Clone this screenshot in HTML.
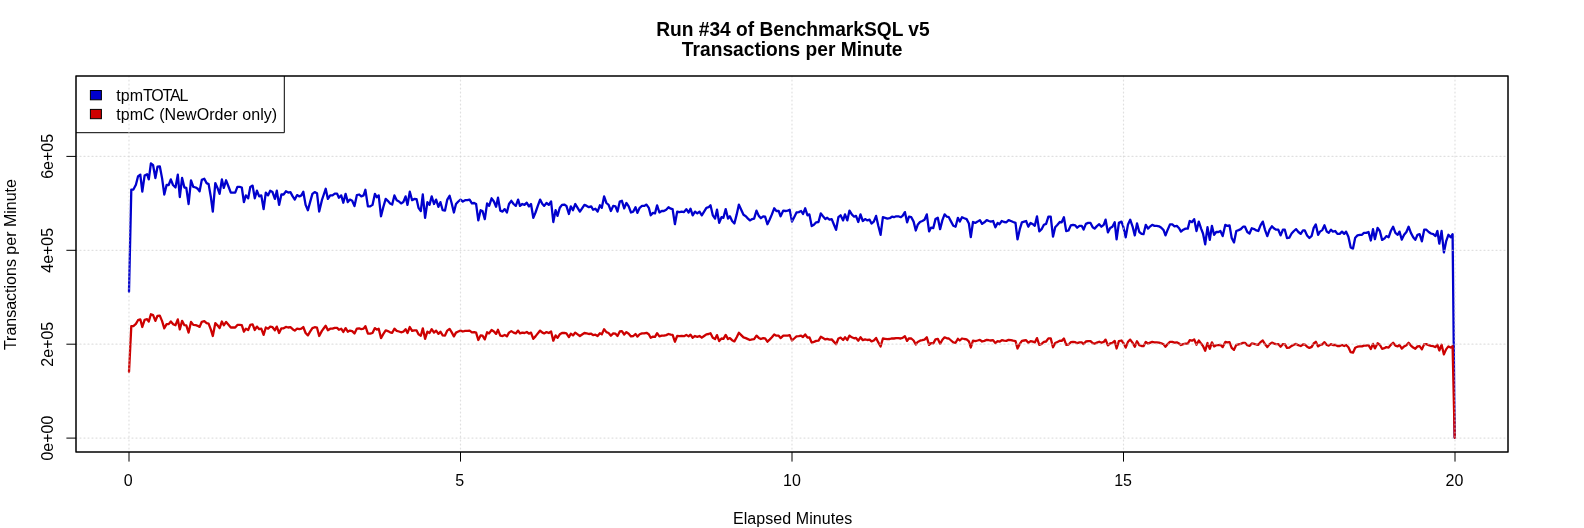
<!DOCTYPE html>
<html><head><meta charset="utf-8"><title>Run #34 of BenchmarkSQL v5</title>
<style>
html,body{margin:0;padding:0;background:#fff;}
body{width:1584px;height:528px;overflow:hidden;}
svg{display:block;will-change:transform;opacity:0.999;font-family:"Liberation Sans",sans-serif;font-size:16px;fill:#000;}
.ttl{font-weight:bold;font-size:20.25px;}
</style></head><body>
<svg width="1584" height="528" viewBox="0 0 1584 528">
<rect x="0" y="0" width="1584" height="528" fill="#fff"/>
<text class="ttl" transform="translate(792.9,35.6) scale(0.947,1)" text-anchor="middle">Run #34 of BenchmarkSQL v5</text>
<text class="ttl" transform="translate(792.2,55.5) scale(0.948,1)" text-anchor="middle">Transactions per Minute</text>
<text x="792.6" y="523.5" text-anchor="middle" letter-spacing="0.07">Elapsed Minutes</text>
<text transform="translate(16,264.6) rotate(-90)" text-anchor="middle">Transactions per Minute</text>
<path d="M129.0,291.8 L131.3,189.6 L133.4,189.5 L135.9,184.7 L138.0,176.5 L140.3,174.6 L142.3,191.7 L144.6,175.6 L147.1,174.2 L148.8,179.4 L150.9,163.3 L153.1,165.2 L155.4,178.0 L157.5,166.7 L159.8,166.3 L162.1,178.4 L164.3,194.5 L166.6,185.0 L168.7,185.0 L170.8,179.4 L173.0,185.0 L175.5,187.5 L177.8,174.6 L179.8,197.0 L182.1,178.0 L184.4,187.5 L186.3,187.9 L188.6,204.0 L191.0,180.3 L193.3,186.9 L195.8,187.5 L197.7,188.8 L199.6,191.3 L201.8,179.9 L204.3,178.8 L206.6,183.1 L208.6,184.1 L210.9,197.3 L212.8,211.6 L215.3,183.1 L217.5,187.9 L219.6,193.9 L221.9,179.4 L223.8,187.9 L226.1,180.3 L228.3,186.0 L230.8,192.6 L233.1,192.6 L235.2,192.6 L237.4,186.9 L239.7,186.9 L241.8,187.5 L243.9,202.1 L245.9,195.4 L248.2,198.3 L250.3,186.9 L252.6,185.6 L254.8,198.3 L256.9,190.7 L259.2,196.4 L261.3,195.4 L263.6,209.1 L265.8,192.6 L268.1,195.4 L270.2,190.7 L272.5,192.1 L274.9,198.9 L276.8,190.7 L279.1,204.9 L281.4,194.5 L283.6,194.5 L285.9,191.3 L288.2,192.6 L290.4,192.1 L292.7,196.4 L294.8,199.6 L297.1,195.1 L299.4,196.4 L301.4,195.4 L303.3,191.7 L305.6,204.9 L307.9,210.2 L310.1,202.1 L312.4,193.9 L314.7,192.1 L317.0,193.2 L319.2,211.6 L321.9,200.2 L323.8,194.5 L325.7,188.8 L327.9,198.9 L330.2,195.4 L332.5,195.4 L334.8,193.6 L337.1,193.6 L338.9,197.7 L341.2,195.4 L343.3,202.7 L345.6,193.9 L347.8,202.1 L349.9,199.6 L352.2,200.8 L354.5,206.1 L356.9,195.1 L359.2,194.5 L361.3,196.4 L363.6,195.4 L365.4,189.8 L367.9,206.4 L370.2,206.4 L372.5,204.9 L374.9,193.9 L376.8,197.3 L378.7,195.4 L381.0,216.3 L383.4,206.8 L385.7,198.9 L387.8,200.8 L390.1,203.4 L392.2,204.6 L394.4,195.4 L396.7,200.2 L399.0,201.5 L401.1,203.4 L403.3,202.1 L405.6,196.4 L407.5,204.9 L409.8,191.7 L412.1,200.2 L414.3,198.9 L416.6,199.2 L418.5,207.8 L420.8,211.0 L422.8,194.5 L425.1,217.8 L427.4,202.1 L429.5,204.9 L431.7,196.4 L434.0,204.0 L436.1,199.6 L438.4,206.8 L440.4,202.1 L442.7,210.2 L445.0,210.6 L447.3,199.6 L449.6,195.8 L451.6,203.0 L453.9,212.5 L456.0,204.0 L458.3,201.5 L460.5,199.6 L462.8,201.5 L465.1,200.2 L467.4,200.2 L469.6,199.6 L471.9,203.4 L474.2,203.0 L476.1,204.0 L478.3,220.4 L480.6,210.2 L482.5,211.0 L484.8,219.1 L487.1,203.4 L489.1,205.9 L491.6,198.3 L493.9,201.5 L496.1,206.8 L498.0,197.7 L500.3,210.6 L502.6,211.6 L504.7,209.1 L506.9,212.5 L509.0,204.0 L511.3,200.8 L513.6,204.0 L515.8,205.9 L518.1,199.6 L520.0,205.9 L522.3,204.0 L524.5,204.9 L526.8,202.7 L528.9,206.4 L531.0,204.0 L533.3,217.8 L535.5,212.5 L537.8,205.9 L540.1,199.6 L542.4,204.0 L544.2,205.9 L546.5,203.0 L548.8,204.9 L551.1,201.5 L553.3,222.0 L555.6,210.2 L557.5,215.9 L559.8,207.8 L562.0,204.9 L564.3,204.6 L566.4,205.9 L568.9,214.0 L570.8,206.4 L573.0,210.2 L575.3,204.0 L577.6,207.8 L579.9,211.6 L582.1,208.3 L584.4,204.9 L586.7,205.9 L588.9,207.2 L591.2,206.4 L593.1,209.7 L595.4,208.7 L597.6,211.6 L599.9,205.3 L601.8,207.8 L604.1,196.4 L606.4,203.0 L608.6,204.9 L610.9,211.0 L613.2,205.9 L615.5,206.4 L617.5,211.6 L619.8,201.5 L621.9,200.8 L624.2,208.3 L626.4,203.0 L628.7,206.4 L631.0,212.5 L633.3,211.6 L635.5,207.2 L637.4,212.9 L639.7,207.8 L642.0,205.9 L644.2,205.9 L646.5,204.6 L648.8,207.8 L650.7,215.3 L653.0,212.9 L655.0,213.4 L657.1,205.3 L659.4,212.5 L661.7,211.0 L663.9,211.0 L666.2,209.7 L668.5,207.2 L670.8,208.7 L672.6,209.1 L674.9,224.2 L677.2,211.6 L679.5,212.1 L681.7,211.6 L684.0,212.1 L686.3,209.1 L688.6,212.5 L690.5,208.7 L692.7,215.3 L695.0,211.6 L697.3,213.4 L699.5,211.6 L701.8,215.3 L704.1,211.6 L706.4,207.8 L708.6,207.2 L710.5,205.3 L712.8,215.3 L715.1,218.6 L717.0,209.7 L719.2,222.9 L721.5,217.2 L723.4,217.8 L725.7,209.1 L728.0,218.6 L729.9,216.3 L732.1,221.0 L734.4,223.5 L736.7,214.4 L738.9,204.6 L741.2,209.7 L743.5,214.8 L745.8,216.3 L748.0,218.6 L749.9,220.4 L752.2,219.1 L754.1,218.6 L756.5,210.6 L758.8,215.9 L760.9,218.2 L763.2,216.3 L765.1,216.7 L767.4,224.2 L769.6,219.7 L771.9,214.4 L774.2,208.3 L776.4,211.0 L778.7,211.0 L780.6,216.3 L783.3,210.6 L785.5,211.0 L787.8,210.6 L789.7,209.7 L792.0,221.6 L794.2,217.2 L796.5,212.5 L798.8,212.1 L801.1,211.0 L803.0,214.0 L805.2,208.3 L807.5,215.3 L809.4,214.4 L811.7,226.1 L813.9,224.8 L816.2,222.3 L818.5,222.0 L820.8,213.4 L823.0,216.3 L825.3,219.1 L827.2,217.8 L829.5,219.7 L831.7,219.1 L834.0,224.8 L836.1,229.9 L838.4,217.2 L840.6,215.3 L843.1,220.4 L845.0,214.4 L847.3,220.4 L849.5,210.6 L851.8,214.4 L854.1,216.7 L856.0,215.9 L858.3,222.0 L860.5,214.4 L862.8,221.0 L865.1,219.1 L867.4,220.4 L869.6,219.7 L871.5,223.5 L873.8,221.6 L876.1,215.9 L878.3,225.8 L880.6,234.8 L882.9,217.2 L885.1,217.8 L887.4,218.6 L889.7,218.2 L892.0,216.7 L893.9,217.2 L896.1,216.3 L898.4,216.3 L900.7,217.2 L902.6,215.9 L904.9,212.1 L907.1,222.3 L909.0,216.7 L911.3,217.2 L913.6,221.6 L915.8,230.5 L917.7,224.8 L920.0,222.0 L922.3,221.0 L924.5,219.7 L926.8,214.4 L929.1,231.4 L931.0,227.7 L933.3,228.0 L935.5,219.1 L937.8,217.8 L940.1,229.2 L942.4,220.1 L944.6,214.4 L946.9,216.7 L948.8,217.2 L951.1,221.6 L953.3,225.8 L955.6,226.7 L957.9,217.8 L959.8,221.6 L962.0,217.2 L964.3,218.2 L966.6,219.1 L968.9,223.5 L970.8,237.1 L973.0,222.0 L975.3,222.9 L977.6,221.6 L979.9,220.1 L982.1,223.9 L984.4,222.3 L986.7,220.1 L988.9,221.0 L990.8,221.6 L993.1,221.0 L995.4,227.3 L997.6,222.9 L999.5,224.2 L1001.8,221.0 L1004.1,222.0 L1006.4,222.3 L1008.6,220.1 L1010.9,221.0 L1013.2,222.0 L1015.5,222.9 L1017.5,239.4 L1019.8,229.2 L1021.9,222.3 L1024.2,221.6 L1026.1,221.0 L1028.3,226.7 L1030.6,222.9 L1032.9,224.2 L1034.8,225.8 L1037.0,216.3 L1039.3,231.4 L1041.6,229.2 L1043.9,224.8 L1046.1,223.9 L1048.4,216.7 L1050.7,216.7 L1053.0,236.7 L1055.2,227.3 L1057.5,224.8 L1059.8,222.0 L1061.7,222.3 L1063.9,217.2 L1066.2,231.1 L1068.5,230.5 L1070.8,225.4 L1073.0,224.8 L1075.3,225.4 L1077.2,227.7 L1079.5,225.8 L1081.7,225.8 L1083.6,229.6 L1085.9,223.9 L1088.2,222.9 L1090.5,222.9 L1092.7,227.3 L1094.6,228.6 L1096.9,226.1 L1099.2,224.2 L1101.4,226.7 L1103.7,224.8 L1105.6,219.7 L1107.9,232.4 L1110.2,228.0 L1112.4,226.7 L1114.7,222.3 L1116.6,239.4 L1118.9,222.9 L1121.5,221.6 L1123.4,227.2 L1125.7,237.3 L1128.0,224.4 L1130.2,219.7 L1132.5,226.3 L1134.8,235.4 L1137.0,223.4 L1139.3,232.0 L1141.6,233.9 L1143.5,234.2 L1145.8,224.8 L1148.0,228.6 L1150.3,226.3 L1152.2,224.8 L1154.5,225.9 L1156.7,225.9 L1159.0,226.3 L1161.3,227.8 L1163.6,230.1 L1165.5,235.4 L1167.7,229.7 L1170.0,224.4 L1172.3,224.4 L1174.5,226.3 L1176.8,225.9 L1179.1,228.2 L1181.0,231.6 L1183.3,229.7 L1185.5,228.6 L1187.8,228.6 L1189.7,221.0 L1192.0,222.1 L1194.2,219.1 L1196.5,231.0 L1198.8,221.6 L1201.1,228.6 L1203.0,233.5 L1205.2,244.3 L1207.5,227.2 L1209.8,239.9 L1211.9,225.9 L1214.1,234.8 L1216.2,232.0 L1218.5,232.0 L1220.4,231.0 L1222.7,236.1 L1225.3,224.8 L1227.2,225.9 L1229.5,225.3 L1231.7,238.0 L1234.0,242.4 L1236.3,231.0 L1238.6,230.1 L1240.8,229.1 L1243.1,226.7 L1245.0,226.7 L1247.3,232.0 L1249.5,233.5 L1251.8,228.2 L1254.1,229.1 L1256.4,230.4 L1258.3,231.0 L1260.5,225.3 L1262.8,221.6 L1265.1,230.1 L1267.3,236.1 L1269.6,229.7 L1271.9,226.3 L1274.2,228.6 L1276.1,229.7 L1278.3,229.7 L1280.6,235.4 L1282.9,229.7 L1284.8,229.7 L1287.0,238.0 L1289.3,237.7 L1291.6,233.5 L1293.9,231.0 L1296.1,229.1 L1298.4,232.0 L1300.7,233.9 L1303.0,230.4 L1304.8,230.4 L1307.1,235.4 L1309.4,238.0 L1311.7,235.8 L1313.6,228.2 L1315.8,224.4 L1318.1,234.8 L1320.0,231.6 L1322.3,230.1 L1324.5,225.3 L1326.8,231.6 L1328.7,232.9 L1331.0,229.7 L1332.9,231.6 L1335.2,231.0 L1337.4,233.9 L1339.7,233.9 L1342.0,231.6 L1344.2,233.9 L1346.1,231.6 L1348.4,236.7 L1350.7,247.5 L1353.0,248.6 L1355.2,237.7 L1357.5,235.4 L1359.8,234.8 L1362.0,234.8 L1363.9,232.9 L1366.2,232.9 L1368.5,232.0 L1370.8,240.5 L1373.0,229.1 L1374.9,239.2 L1377.6,227.8 L1379.8,231.0 L1382.1,239.9 L1384.4,238.6 L1386.3,236.1 L1388.6,237.3 L1390.8,231.0 L1393.1,226.7 L1395.4,232.9 L1397.7,234.8 L1399.5,231.6 L1401.8,239.6 L1404.1,234.8 L1406.4,232.0 L1408.6,226.7 L1410.9,232.9 L1413.2,237.3 L1415.3,239.9 L1417.5,234.8 L1419.6,234.2 L1421.9,241.4 L1424.2,229.7 L1426.4,229.7 L1428.7,232.0 L1431.0,233.5 L1433.3,234.2 L1435.5,236.1 L1437.4,231.0 L1439.3,243.7 L1441.6,231.0 L1443.9,252.4 L1446.1,241.4 L1448.4,234.8 L1450.7,237.3 L1452.6,234.2 L1454.7,437.7" fill="none" stroke="#0000cd" stroke-width="2.3" stroke-linejoin="round" stroke-linecap="round"/>
<path d="M129.0,372.0 L131.3,326.1 L133.4,326.1 L135.9,323.9 L138.0,320.2 L140.3,319.4 L142.3,327.0 L144.6,319.8 L147.1,319.2 L148.8,321.5 L150.9,314.3 L153.1,315.1 L155.4,320.9 L157.5,315.8 L159.8,315.6 L162.1,321.1 L164.3,328.3 L166.6,324.1 L168.7,324.1 L170.8,321.5 L173.0,324.1 L175.5,325.2 L177.8,319.4 L179.8,329.4 L182.1,320.9 L184.4,325.2 L186.3,325.3 L188.6,332.6 L191.0,321.9 L193.3,324.9 L195.8,325.2 L197.7,325.8 L199.6,326.9 L201.8,321.8 L204.3,321.2 L206.6,323.2 L208.6,323.6 L210.9,329.6 L212.8,336.0 L215.3,323.2 L217.5,325.3 L219.6,328.1 L221.9,321.5 L223.8,325.3 L226.1,321.9 L228.3,324.5 L230.8,327.5 L233.1,327.5 L235.2,327.5 L237.4,324.9 L239.7,324.9 L241.8,325.2 L243.9,331.7 L245.9,328.7 L248.2,330.0 L250.3,324.9 L252.6,324.3 L254.8,330.0 L256.9,326.6 L259.2,329.2 L261.3,328.7 L263.6,334.9 L265.8,327.5 L268.1,328.7 L270.2,326.6 L272.5,327.2 L274.9,330.3 L276.8,326.6 L279.1,333.0 L281.4,328.3 L283.6,328.3 L285.9,326.9 L288.2,327.5 L290.4,327.2 L292.7,329.2 L294.8,330.6 L297.1,328.6 L299.4,329.2 L301.4,328.7 L303.3,327.0 L305.6,333.0 L307.9,335.4 L310.1,331.7 L312.4,328.1 L314.7,327.2 L317.0,327.7 L319.2,336.0 L321.9,330.9 L323.8,328.3 L325.7,325.8 L327.9,330.3 L330.2,328.7 L332.5,328.7 L334.8,327.9 L337.1,327.9 L338.9,329.8 L341.2,328.7 L343.3,332.0 L345.6,328.1 L347.8,331.7 L349.9,330.6 L352.2,331.1 L354.5,333.5 L356.9,328.6 L359.2,328.3 L361.3,329.2 L363.6,328.7 L365.4,326.2 L367.9,333.7 L370.2,333.7 L372.5,333.0 L374.9,328.1 L376.8,329.6 L378.7,328.7 L381.0,338.1 L383.4,333.9 L385.7,330.3 L387.8,331.1 L390.1,332.3 L392.2,332.8 L394.4,328.7 L396.7,330.9 L399.0,331.5 L401.1,332.3 L403.3,331.7 L405.6,329.2 L407.5,333.0 L409.8,327.0 L412.1,330.9 L414.3,330.3 L416.6,330.4 L418.5,334.3 L420.8,335.7 L422.8,328.3 L425.1,338.8 L427.4,331.7 L429.5,333.0 L431.7,329.2 L434.0,332.6 L436.1,330.6 L438.4,333.9 L440.4,331.7 L442.7,335.4 L445.0,335.6 L447.3,330.6 L449.6,328.9 L451.6,332.1 L453.9,336.4 L456.0,332.6 L458.3,331.5 L460.5,330.6 L462.8,331.5 L465.1,330.9 L467.4,330.9 L469.6,330.6 L471.9,332.3 L474.2,332.1 L476.1,332.6 L478.3,340.0 L480.6,335.4 L482.5,335.7 L484.8,339.4 L487.1,332.3 L489.1,333.4 L491.6,330.0 L493.9,331.5 L496.1,333.9 L498.0,329.8 L500.3,335.6 L502.6,336.0 L504.7,334.9 L506.9,336.4 L509.0,332.6 L511.3,331.1 L513.6,332.6 L515.8,333.4 L518.1,330.6 L520.0,333.4 L522.3,332.6 L524.5,333.0 L526.8,332.0 L528.9,333.7 L531.0,332.6 L533.3,338.8 L535.5,336.4 L537.8,333.4 L540.1,330.6 L542.4,332.6 L544.2,333.4 L546.5,332.1 L548.8,333.0 L551.1,331.5 L553.3,340.7 L555.6,335.4 L557.5,337.9 L559.8,334.3 L562.0,333.0 L564.3,332.8 L566.4,333.4 L568.9,337.1 L570.8,333.7 L573.0,335.4 L575.3,332.6 L577.6,334.3 L579.9,336.0 L582.1,334.5 L584.4,333.0 L586.7,333.4 L588.9,334.0 L591.2,333.7 L593.1,335.1 L595.4,334.7 L597.6,336.0 L599.9,333.2 L601.8,334.3 L604.1,329.2 L606.4,332.1 L608.6,333.0 L610.9,335.7 L613.2,333.4 L615.5,333.7 L617.5,336.0 L619.8,331.5 L621.9,331.1 L624.2,334.5 L626.4,332.1 L628.7,333.7 L631.0,336.4 L633.3,336.0 L635.5,334.0 L637.4,336.6 L639.7,334.3 L642.0,333.4 L644.2,333.4 L646.5,332.8 L648.8,334.3 L650.7,337.7 L653.0,336.6 L655.0,336.8 L657.1,333.2 L659.4,336.4 L661.7,335.7 L663.9,335.7 L666.2,335.1 L668.5,334.0 L670.8,334.7 L672.6,334.9 L674.9,341.7 L677.2,336.0 L679.5,336.2 L681.7,336.0 L684.0,336.2 L686.3,334.9 L688.6,336.4 L690.5,334.7 L692.7,337.7 L695.0,336.0 L697.3,336.8 L699.5,336.0 L701.8,337.7 L704.1,336.0 L706.4,334.3 L708.6,334.0 L710.5,333.2 L712.8,337.7 L715.1,339.1 L717.0,335.1 L719.2,341.1 L721.5,338.5 L723.4,338.8 L725.7,334.9 L728.0,339.1 L729.9,338.1 L732.1,340.2 L734.4,341.4 L736.7,337.3 L738.9,332.8 L741.2,335.1 L743.5,337.4 L745.8,338.1 L748.0,339.1 L749.9,340.0 L752.2,339.4 L754.1,339.1 L756.5,335.6 L758.8,337.9 L760.9,339.0 L763.2,338.1 L765.1,338.3 L767.4,341.7 L769.6,339.6 L771.9,337.3 L774.2,334.5 L776.4,335.7 L778.7,335.7 L780.6,338.1 L783.3,335.6 L785.5,335.7 L787.8,335.6 L789.7,335.1 L792.0,340.5 L794.2,338.5 L796.5,336.4 L798.8,336.2 L801.1,335.7 L803.0,337.1 L805.2,334.5 L807.5,337.7 L809.4,337.3 L811.7,342.6 L813.9,341.9 L816.2,340.9 L818.5,340.7 L820.8,336.8 L823.0,338.1 L825.3,339.4 L827.2,338.8 L829.5,339.6 L831.7,339.4 L834.0,341.9 L836.1,344.2 L838.4,338.5 L840.6,337.7 L843.1,340.0 L845.0,337.3 L847.3,340.0 L849.5,335.6 L851.8,337.3 L854.1,338.3 L856.0,337.9 L858.3,340.7 L860.5,337.3 L862.8,340.2 L865.1,339.4 L867.4,340.0 L869.6,339.6 L871.5,341.4 L873.8,340.5 L876.1,337.9 L878.3,342.4 L880.6,346.5 L882.9,338.5 L885.1,338.8 L887.4,339.1 L889.7,339.0 L892.0,338.3 L893.9,338.5 L896.1,338.1 L898.4,338.1 L900.7,338.5 L902.6,337.9 L904.9,336.2 L907.1,340.9 L909.0,338.3 L911.3,338.5 L913.6,340.5 L915.8,344.5 L917.7,341.9 L920.0,340.7 L922.3,340.2 L924.5,339.6 L926.8,337.3 L929.1,344.9 L931.0,343.2 L933.3,343.4 L935.5,339.4 L937.8,338.8 L940.1,343.9 L942.4,339.8 L944.6,337.3 L946.9,338.3 L948.8,338.5 L951.1,340.5 L953.3,342.4 L955.6,342.8 L957.9,338.8 L959.8,340.5 L962.0,338.5 L964.3,339.0 L966.6,339.4 L968.9,341.4 L970.8,347.5 L973.0,340.7 L975.3,341.1 L977.6,340.5 L979.9,339.8 L982.1,341.5 L984.4,340.9 L986.7,339.8 L988.9,340.2 L990.8,340.5 L993.1,340.2 L995.4,343.1 L997.6,341.1 L999.5,341.7 L1001.8,340.2 L1004.1,340.7 L1006.4,340.9 L1008.6,339.8 L1010.9,340.2 L1013.2,340.7 L1015.5,341.1 L1017.5,348.5 L1019.8,343.9 L1021.9,340.9 L1024.2,340.5 L1026.1,340.2 L1028.3,342.8 L1030.6,341.1 L1032.9,341.7 L1034.8,342.4 L1037.0,338.1 L1039.3,344.9 L1041.6,343.9 L1043.9,341.9 L1046.1,341.5 L1048.4,338.3 L1050.7,338.3 L1053.0,347.3 L1055.2,343.1 L1057.5,341.9 L1059.8,340.7 L1061.7,340.9 L1063.9,338.5 L1066.2,344.8 L1068.5,344.5 L1070.8,342.2 L1073.0,341.9 L1075.3,342.2 L1077.2,343.2 L1079.5,342.4 L1081.7,342.4 L1083.6,344.1 L1085.9,341.5 L1088.2,341.1 L1090.5,341.1 L1092.7,343.1 L1094.6,343.7 L1096.9,342.6 L1099.2,341.7 L1101.4,342.8 L1103.7,341.9 L1105.6,339.6 L1107.9,345.4 L1110.2,343.4 L1112.4,342.8 L1114.7,340.9 L1116.6,348.5 L1118.9,341.1 L1121.5,340.5 L1123.4,343.0 L1125.7,347.6 L1128.0,341.8 L1130.2,339.6 L1132.5,342.6 L1134.8,346.7 L1137.0,341.3 L1139.3,345.2 L1141.6,346.0 L1143.5,346.2 L1145.8,341.9 L1148.0,343.6 L1150.3,342.6 L1152.2,341.9 L1154.5,342.4 L1156.7,342.4 L1159.0,342.6 L1161.3,343.3 L1163.6,344.3 L1165.5,346.7 L1167.7,344.1 L1170.0,341.8 L1172.3,341.8 L1174.5,342.6 L1176.8,342.4 L1179.1,343.5 L1181.0,345.0 L1183.3,344.1 L1185.5,343.6 L1187.8,343.6 L1189.7,340.2 L1192.0,340.7 L1194.2,339.4 L1196.5,344.8 L1198.8,340.5 L1201.1,343.6 L1203.0,345.9 L1205.2,350.7 L1207.5,343.0 L1209.8,348.8 L1211.9,342.4 L1214.1,346.4 L1216.2,345.2 L1218.5,345.2 L1220.4,344.8 L1222.7,347.1 L1225.3,341.9 L1227.2,342.4 L1229.5,342.2 L1231.7,347.9 L1234.0,349.9 L1236.3,344.8 L1238.6,344.3 L1240.8,343.9 L1243.1,342.8 L1245.0,342.8 L1247.3,345.2 L1249.5,345.9 L1251.8,343.5 L1254.1,343.9 L1256.4,344.5 L1258.3,344.8 L1260.5,342.2 L1262.8,340.5 L1265.1,344.3 L1267.3,347.1 L1269.6,344.1 L1271.9,342.6 L1274.2,343.6 L1276.1,344.1 L1278.3,344.1 L1280.6,346.7 L1282.9,344.1 L1284.8,344.1 L1287.0,347.9 L1289.3,347.7 L1291.6,345.9 L1293.9,344.8 L1296.1,343.9 L1298.4,345.2 L1300.7,346.0 L1303.0,344.5 L1304.8,344.5 L1307.1,346.7 L1309.4,347.9 L1311.7,346.9 L1313.6,343.5 L1315.8,341.8 L1318.1,346.4 L1320.0,345.0 L1322.3,344.3 L1324.5,342.2 L1326.8,345.0 L1328.7,345.6 L1331.0,344.1 L1332.9,345.0 L1335.2,344.8 L1337.4,346.0 L1339.7,346.0 L1342.0,345.0 L1344.2,346.0 L1346.1,345.0 L1348.4,347.3 L1350.7,352.2 L1353.0,352.7 L1355.2,347.7 L1357.5,346.7 L1359.8,346.4 L1362.0,346.4 L1363.9,345.6 L1366.2,345.6 L1368.5,345.2 L1370.8,349.0 L1373.0,343.9 L1374.9,348.4 L1377.6,343.3 L1379.8,344.8 L1382.1,348.8 L1384.4,348.2 L1386.3,347.1 L1388.6,347.6 L1390.8,344.8 L1393.1,342.8 L1395.4,345.6 L1397.7,346.4 L1399.5,345.0 L1401.8,348.6 L1404.1,346.4 L1406.4,345.2 L1408.6,342.8 L1410.9,345.6 L1413.2,347.6 L1415.3,348.8 L1417.5,346.4 L1419.6,346.2 L1421.9,349.4 L1424.2,344.1 L1426.4,344.1 L1428.7,345.2 L1431.0,345.9 L1433.3,346.2 L1435.5,347.1 L1437.4,344.8 L1439.3,350.5 L1441.6,344.8 L1443.9,354.4 L1446.1,349.4 L1448.4,346.4 L1450.7,347.6 L1452.6,346.2 L1454.7,437.8" fill="none" stroke="#cd0000" stroke-width="2.3" stroke-linejoin="round" stroke-linecap="round"/>
<rect x="76" y="76" width="208.3" height="56.7" fill="#fff"/><polyline points="284.3,76 284.3,132.7 76,132.7" fill="none" stroke="#000" stroke-width="1"/>
<rect x="90.4" y="90.5" width="11" height="9.3" fill="#0000cd" stroke="#000" stroke-width="1"/>
<rect x="90.4" y="109.4" width="11" height="9.3" fill="#cd0000" stroke="#000" stroke-width="1"/>
<text x="116.3" y="101.2">tpm<tspan letter-spacing="-1.15">TOTAL</tspan></text>
<text x="116.3" y="119.8" letter-spacing="0.04">tpmC (NewOrder only)</text>
<g stroke="#d3d3d3" stroke-opacity="0.7" stroke-width="1.2" stroke-dasharray="1,3" stroke-linecap="round" fill="none"><line x1="129.0" y1="76" x2="129.0" y2="452"/><line x1="460.5" y1="76" x2="460.5" y2="452"/><line x1="792.0" y1="76" x2="792.0" y2="452"/><line x1="1123.5" y1="76" x2="1123.5" y2="452"/><line x1="1455.0" y1="76" x2="1455.0" y2="452"/><line x1="76" y1="438.1" x2="1508" y2="438.1"/><line x1="76" y1="344.2" x2="1508" y2="344.2"/><line x1="76" y1="250.3" x2="1508" y2="250.3"/><line x1="76" y1="156.4" x2="1508" y2="156.4"/></g>
<g stroke="#000" stroke-width="1" fill="none"><line x1="129.0" y1="452" x2="129.0" y2="461.6"/><line x1="460.5" y1="452" x2="460.5" y2="461.6"/><line x1="792.0" y1="452" x2="792.0" y2="461.6"/><line x1="1123.5" y1="452" x2="1123.5" y2="461.6"/><line x1="1455.0" y1="452" x2="1455.0" y2="461.6"/><line x1="76" y1="438.1" x2="66.4" y2="438.1"/><line x1="76" y1="344.2" x2="66.4" y2="344.2"/><line x1="76" y1="250.3" x2="66.4" y2="250.3"/><line x1="76" y1="156.4" x2="66.4" y2="156.4"/>

<rect x="76" y="76" width="1432" height="376"/><rect x="76" y="76" width="1432" height="376"/></g>
<text x="128.3" y="485.5" text-anchor="middle">0</text><text x="459.8" y="485.5" text-anchor="middle">5</text><text x="792.0" y="485.5" text-anchor="middle">10</text><text x="1123.1" y="485.5" text-anchor="middle">15</text><text x="1454.5" y="485.5" text-anchor="middle">20</text><text transform="translate(52.5,438.1) rotate(-90)" text-anchor="middle">0e+00</text><text transform="translate(52.5,344.2) rotate(-90)" text-anchor="middle">2e+05</text><text transform="translate(52.5,250.3) rotate(-90)" text-anchor="middle">4e+05</text><text transform="translate(52.5,156.4) rotate(-90)" text-anchor="middle">6e+05</text>
</svg>
</body></html>
